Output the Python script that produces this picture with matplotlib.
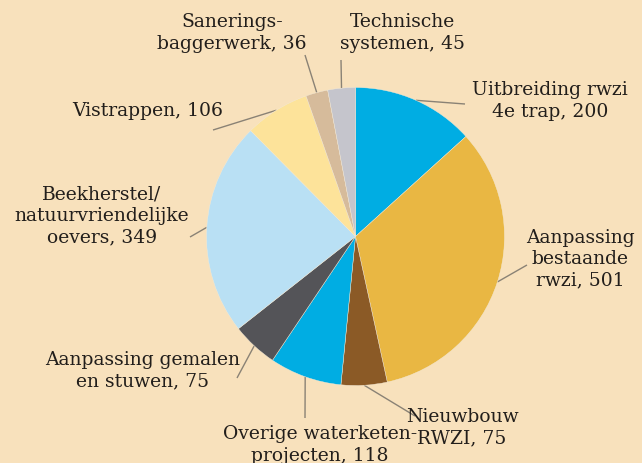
import numpy as np
import matplotlib
matplotlib.use("Agg")
import matplotlib.pyplot as plt

labels = ["Uitbreiding rwzi\n4e trap, 200",
          "Aanpassing\nbestaande\nrwzi, 501",
          "Nieuwbouw\nRWZI, 75",
          "Overige waterketen-\nprojecten, 118",
          "Aanpassing gemalen\nen stuwen, 75",
          "Beekherstel/\nnatuurvriendelijke\noevers, 349",
          "Vistrappen, 106",
          "Sanerings-\nbaggerwerk, 36",
          "Technische\nsystemen, 45"]
values = [200, 501, 75, 118, 75, 349, 106, 36, 45]
colors = ["#00ade3", "#e9b743", "#8b5a26", "#00ade3", "#545458",
          "#b9e0f4", "#fde39a", "#d6bb9b", "#c5c5cc"]

# layout (pixel coords, y from top)
W, H = 642, 463
cx, cy, R = 355.5, 236.5, 149
text_pos = [(550, 101), (580, 259), (462, 428), (320, 445), (143, 371),
            (102, 216), (148, 111), (232, 33), (402, 33)]
line_end = [(465, 104), (527, 265), (415, 416), (305, 418), (237, 378),
            (190, 237), (213, 130), (305, 55), (341, 60)]

bg = "#f8e1bc"
fig = plt.figure(figsize=(W / 100, H / 100), dpi=100, facecolor=bg)
ax = fig.add_axes([0, 0, 1, 1])
ax.set_facecolor(bg)

wedges, _ = ax.pie(values, colors=colors, startangle=90, counterclock=False,
                   center=(cx, H - cy), radius=R,
                   wedgeprops=dict(linewidth=0.3, edgecolor="#f3ead8"))
ax.set_xlim(0, W)
ax.set_ylim(0, H)
ax.set_aspect("equal")
ax.axis("off")

for w, lab, tp, le in zip(wedges, labels, text_pos, line_end):
    ang = np.deg2rad((w.theta1 + w.theta2) / 2)
    px = cx + R * np.cos(ang)
    py = (H - cy) + R * np.sin(ang)
    ax.plot([px, le[0]], [py, H - le[1]], color="#8a8275", lw=1.0,
            solid_capstyle="butt", zorder=0.5)
    ax.text(tp[0], H - tp[1], lab, ha="center", va="center",
            fontsize=13.5, family="DejaVu Serif", color="#221e1b",
            linespacing=1.22)

fig.savefig("out.png", dpi=100, facecolor=bg)
